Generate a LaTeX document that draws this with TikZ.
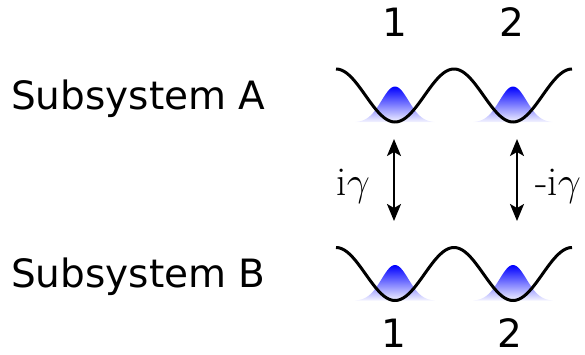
\RequirePackage{fix-cm}
\documentclass[tikz,border=0pt]{standalone}
\usepackage{fontspec}
\newfontfamily\namefont{DejaVu Sans}
\usetikzlibrary{arrows.meta}
\tikzset{
  well/.style={line width=3pt, black},
  blob/.style={top color=blue, middle color=blue!85, bottom color=blue!4},
  sysname/.style={inner sep=0pt, font=\namefont\fontsize{39}{47}\selectfont},
  sitenum/.style={inner sep=0pt, anchor=base, font=\namefont\fontsize{39}{47}\selectfont},
  coupling/.style={inner sep=0pt, font=\fontsize{41}{49}\selectfont},
  hop/.style={line width=2pt, {Stealth[length=17pt,width=14pt,inset=4pt]}-{Stealth[length=17pt,width=14pt,inset=4pt]}}
}
\begin{document}
\begin{tikzpicture}[x=1pt,y=-1pt]
		\useasboundingbox (0,0) rectangle (585,354);
		%Names of the two subsystems
		\node[sysname, anchor=base west] (nameA) at (11,109) {Subsystem A};
		\node[sysname, anchor=base west] (nameB) at (11,287) {Subsystem B};
		%Double wells with the particle in each site
		\foreach \yc in {95.5,274}{
		\foreach \xc in {395,513}
		\shade[blob] plot[domain=-40:40, samples=60] ({\xc+\x},{\yc+27-36*exp(-0.5*(\x/13.5)^2)}) -- cycle;
		\draw[well] plot[domain=336:572, samples=150] (\x,{\yc+26.5*cos(3.0508*(\x-395))});
		}
		%Site numbers
		\node[sitenum] (topone) at (395,36) {1};
		\node[sitenum] (toptwo) at (512,36) {2};
		\node[sitenum] (botone) at (394,347) {1};
		\node[sitenum] (bottwo) at (510,347) {2};
		%Couplings between the subsystems
		\coordinate (tipA1) at (394,139);
		\coordinate (tipB1) at (394,221);
		\coordinate (tipA2) at (517,139);
		\coordinate (tipB2) at (517,221);
		\draw[hop] (tipA1) -- (tipB1);
		\draw[hop] (tipA2) -- (tipB2);
		\node[coupling, anchor=base east] (gone) at (370,195) {i$\gamma$};
		\node[coupling, anchor=base west] (gtwo) at (535,195) {-i$\gamma$};
\end{tikzpicture}
\end{document}
